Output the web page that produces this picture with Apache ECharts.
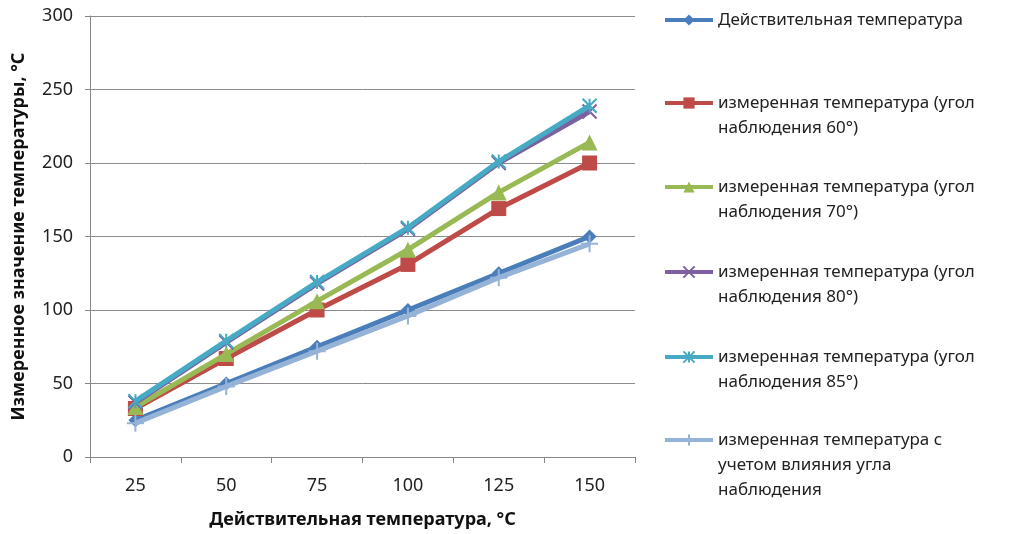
<!DOCTYPE html>
<html>
<head>
<meta charset="utf-8">
<script src="https://cdn.jsdelivr.net/npm/echarts@6/dist/echarts.min.js"></script>
<style>
html,body{margin:0;padding:0;background:#fff;}
#chart{width:1018px;height:534px;}
</style>
</head>
<body>
<div id="chart"></div>
<script>
var categories = ['25', '50', '75', '100', '125', '150'];
var yTicks = [0, 50, 100, 150, 200, 250, 300];
var seriesNames = [
  'Действительная температура',
  'измеренная температура (угол\nнаблюдения 60°)',
  'измеренная температура (угол\nнаблюдения 70°)',
  'измеренная температура (угол\nнаблюдения 80°)',
  'измеренная температура (угол\nнаблюдения 85°)',
  'измеренная температура с\nучетом влияния угла\nнаблюдения'
];
var actual = [25, 50, 75, 100, 125, 150];
var angle60 = [33, 67, 100, 131, 169, 200];
var angle70 = [34, 70, 106, 141, 180, 214];
var angle80 = [37, 78, 118, 155, 200, 235];
var angle85 = [38, 79, 119, 156, 201, 239];
var corrected = [23, 48, 72, 96, 122, 145];

var seriesData = [actual, angle60, angle70, angle80, angle85, corrected];
var colors = ['#4A7EBB', '#BE4B48', '#98B954', '#7D60A0', '#46AAC5', '#95B3D7'];
var symbols = [
  'diamond', 'rect', 'triangle',
  'path://M0,0L10,10M10,0L0,10',
  'path://M5,0L5,10M0,0L10,10M10,0L0,10',
  'path://M5,0L5,10M0,5L10,5'
];
var symbolSizes = [14, 15, 16, 14, 14, 17];
var legendTops = [20, 103, 187, 272, 357, 440];

var chart = echarts.init(document.getElementById('chart'));
var L = 25;
var legends = seriesNames.map(function (name, i) {
  var n = name.split('\n').length;
  var boxH = (2 * n - 1) * L;
  var pad = '';
  for (var k = 1; k < n; k++) pad += '\n';
  return {
    orient: 'vertical',
    left: 663,
    top: legendTops[i] - boxH / 2,
    padding: 0,
    itemWidth: 48,
    itemHeight: 14,
    itemGap: 0,
    selectedMode: false,
    data: [name],
    lineStyle: { width: 4 },
    formatter: function (nm) { return pad + nm; },
    textStyle: {
      fontFamily: 'Noto Sans',
      fontSize: 17,
      color: '#222',
      lineHeight: L
    }
  };
});

var series = seriesNames.map(function (name, i) {
  var isPath = symbols[i].indexOf('path://') === 0;
  return {
    name: name,
    type: 'line',
    data: seriesData[i],
    symbol: symbols[i],
    symbolSize: symbolSizes[i],
    lineStyle: { color: colors[i], width: 5 },
    itemStyle: {
      color: isPath ? 'transparent' : colors[i],
      borderColor: colors[i],
      borderWidth: isPath ? 2 : 0
    },
    z: 2 + i,
    animation: false
  };
});

chart.setOption({
  backgroundColor: '#fff',
  animation: false,
  grid: { left: 90, right: 383, top: 16, bottom: 75 },
  legend: legends,
  xAxis: {
    type: 'category',
    data: categories,
    boundaryGap: true,
    name: 'Действительная температура, °C',
    nameLocation: 'middle',
    nameGap: 54,
    nameTextStyle: { fontFamily: 'Noto Sans', fontSize: 18, fontWeight: 'bold', color: '#111' },
    axisLine: { lineStyle: { color: '#868686', width: 1 } },
    axisTick: { show: true, alignWithLabel: false, length: 6, lineStyle: { color: '#868686' } },
    axisLabel: { margin: 20, fontFamily: 'Noto Sans', fontSize: 18, color: '#222' },
    splitLine: { show: false }
  },
  yAxis: {
    type: 'value',
    min: yTicks[0],
    max: yTicks[yTicks.length - 1],
    interval: 50,
    name: 'Измеренное значение температуры, °C',
    nameLocation: 'middle',
    nameGap: 62,
    nameTextStyle: { fontFamily: 'Noto Sans', fontSize: 18, fontWeight: 'bold', color: '#111' },
    axisLine: { show: true, lineStyle: { color: '#868686', width: 1 } },
    axisTick: { show: true, length: 5, lineStyle: { color: '#868686' } },
    axisLabel: { margin: 17, fontFamily: 'Noto Sans', fontSize: 18, color: '#222' },
    splitLine: { show: true, lineStyle: { color: '#8C8C8C', width: 1 } }
  },
  series: series
});
</script>
</body>
</html>
